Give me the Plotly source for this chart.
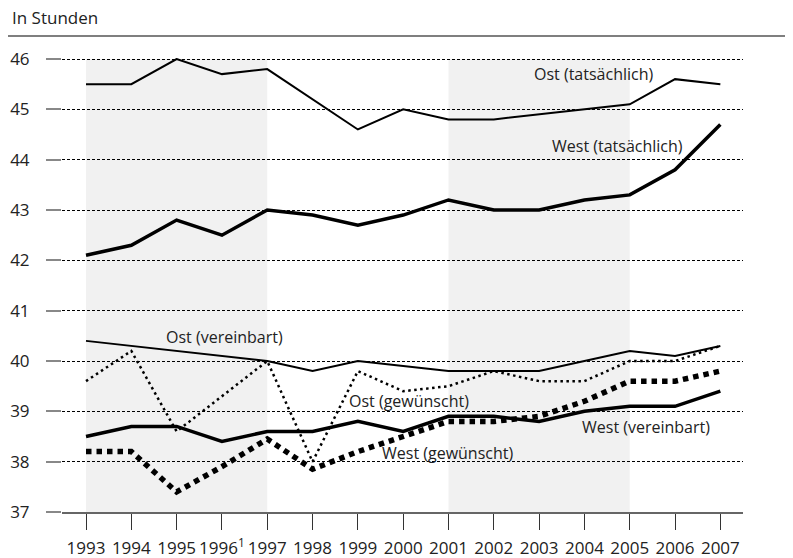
import plotly.graph_objects as go

years = list(range(1993, 2008))
tick_labels = ["1993", "1994", "1995", "1996<sup>1</sup>", "1997", "1998", "1999", "2000",
               "2001", "2002", "2003", "2004", "2005", "2006", "2007"]

ost_tatsaechlich = [45.5, 45.5, 46.0, 45.7, 45.8, 45.2, 44.6, 45.0, 44.8, 44.8, 44.9, 45.0, 45.1, 45.6, 45.5]
west_tatsaechlich = [42.1, 42.3, 42.8, 42.5, 43.0, 42.9, 42.7, 42.9, 43.2, 43.0, 43.0, 43.2, 43.3, 43.8, 44.7]
ost_vereinbart = [40.4, 40.3, 40.2, 40.1, 40.0, 39.8, 40.0, 39.9, 39.8, 39.8, 39.8, 40.0, 40.2, 40.1, 40.3]
ost_gewuenscht = [39.6, 40.2, 38.6, 39.3, 40.0, 38.0, 39.8, 39.4, 39.5, 39.8, 39.6, 39.6, 40.0, 40.0, 40.3]
west_vereinbart = [38.5, 38.7, 38.7, 38.4, 38.6, 38.6, 38.8, 38.6, 38.9, 38.9, 38.8, 39.0, 39.1, 39.1, 39.4]
west_gewuenscht = [38.2, 38.2, 37.4, 37.9, 38.45, 37.85, 38.2, 38.5, 38.8, 38.8, 38.9, 39.2, 39.6, 39.6, 39.8]

shade_start = [1993, 2001]
shade_end = [1997, 2005]

y_ticks = [37, 38, 39, 40, 41, 42, 43, 44, 45, 46]

labels = [
    ("Ost (tatsächlich)", 2004.21, 45.70),
    ("West (tatsächlich)", 2004.74, 44.27),
    ("Ost (vereinbart)", 1996.05, 40.48),
    ("Ost (gewünscht)", 2000.13, 39.20),
    ("West (gewünscht)", 2000.97, 38.17),
    ("West (vereinbart)", 2005.36, 38.69),
]

FONT = "Open Sans"
TXT = "#222222"

fig = go.Figure()

series = [
    (ost_tatsaechlich, 2, "solid"),
    (west_tatsaechlich, 3.5, "solid"),
    (ost_vereinbart, 2, "solid"),
    (west_vereinbart, 3.5, "solid"),
    (ost_gewuenscht, 2.5, "2.5px,3.5px"),
    (west_gewuenscht, 5.5, "5.5px,5px"),
]
for vals, w, dash in series:
    fig.add_trace(go.Scatter(x=years, y=vals, mode="lines",
                             line=dict(color="black", width=w, dash=dash),
                             hoverinfo="skip", showlegend=False))

for s, e in zip(shade_start, shade_end):
    fig.add_shape(type="rect", xref="x", yref="y", x0=s, x1=e, y0=37, y1=46,
                  fillcolor="#f1f1f1", line=dict(width=0), layer="below")

for text, x, y in labels:
    fig.add_annotation(x=x, y=y, xref="x", yref="y", text=text, showarrow=False,
                       font=dict(family=FONT, size=16, color=TXT))

# page has an 8px body margin, so the figure is offset by (8, 8)
OFF = 8
W, H = 793, 558
L, R = 62 - OFF, 50 + OFF
B = H - (512 - OFF)
T = 50
pw, ph = W - L - R, H - T - B
plot_bottom = H - B


def py(page_y):
    return (plot_bottom - (page_y - OFF)) / ph


def px(page_x):
    return ((page_x - OFF) - L) / pw


fig.add_annotation(xref="paper", yref="paper", x=px(10), y=py(18),
                   xanchor="left", yanchor="middle", text="In Stunden", showarrow=False,
                   font=dict(family=FONT, size=17, color=TXT))
fig.add_shape(type="line", xref="paper", yref="paper", x0=px(0), x1=px(800),
              y0=py(36), y1=py(36), line=dict(color="#555555", width=1.6))

fig.update_layout(
    width=W, height=H,
    margin=dict(l=L, r=R, t=T, b=B),
    paper_bgcolor="white", plot_bgcolor="white",
    font=dict(family=FONT, size=17, color=TXT),
    xaxis=dict(range=[1992.47, 2007.5], tickvals=years, ticktext=tick_labels, automargin=False,
               showgrid=False, zeroline=False, showline=True, linecolor="#666666", linewidth=1.5,
               ticks="outside", ticklen=16, tickwidth=1.2, tickcolor="#333333",
               ticklabelstandoff=4, tickfont=dict(family=FONT, size=17, color=TXT)),
    yaxis=dict(range=[37, 46.02], tickvals=y_ticks, showgrid=True, gridcolor="black",
               automargin=False,
               gridwidth=1, griddash="3px,2px", zeroline=False, showline=False,
               ticks="outside", ticklen=15, tickwidth=1.5, tickcolor="#888888",
               ticklabelstandoff=13, tickfont=dict(family=FONT, size=17, color=TXT)),
)

fig.write_html("out.html")
